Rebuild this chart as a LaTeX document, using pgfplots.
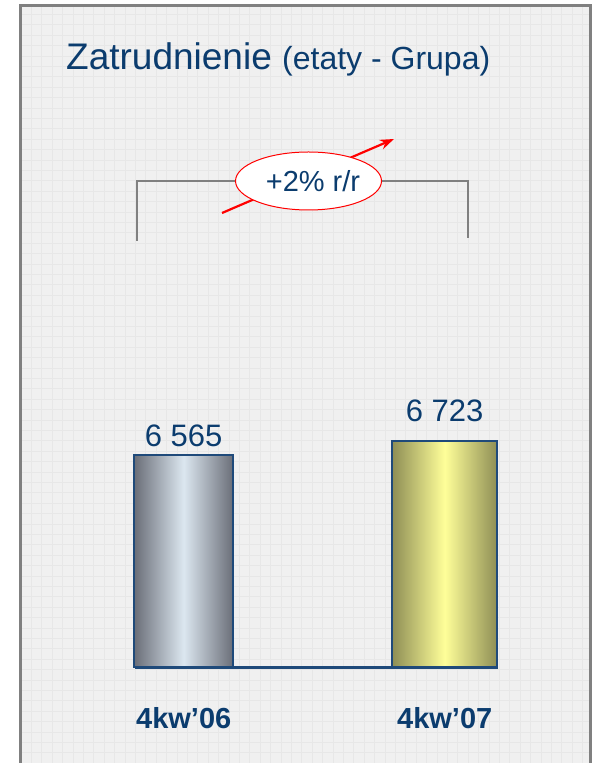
\documentclass[border=0pt]{standalone}
\usepackage{pgfplots}
\pgfplotsset{compat=1.18}
\usepackage{fontspec}
\setmainfont{Liberation Sans}
\usetikzlibrary{arrows.meta}

\definecolor{txtblue}{HTML}{0B3C6E}
\definecolor{edgeblue}{HTML}{1F4A7A}
\definecolor{bgc}{HTML}{F0F0F0}
\definecolor{gridc}{HTML}{E7E7E7}
\definecolor{steel}{HTML}{6A6E78}
\definecolor{ice}{HTML}{DCE7F0}
\definecolor{olive}{HTML}{8E8E55}
\definecolor{lemon}{HTML}{FFFF99}

\begin{document}
\begin{tikzpicture}
\useasboundingbox (0pt,0pt) rectangle (594pt,763pt);
% panel
\fill[bgc] (21pt,0pt) rectangle (590pt,758pt);
\draw[gridc, line width=0.4pt, step=10.4pt] (21pt,0pt) grid (590pt,758pt);
\draw[gray, line width=2.5pt] (20.5pt,-5pt) -- (20.5pt,757.5pt) -- (590.5pt,757.5pt) -- (590.5pt,-5pt);

% title
\node[anchor=base west, text=txtblue, inner sep=0pt] at (66pt,693pt)
  {\fontsize{37}{40}\selectfont Zatrudnienie\ \fontsize{32}{36}\selectfont(etaty - Grupa)};

% bracket, arrow, ellipse
\draw[gray, line width=2pt] (137pt,522pt) -- (137pt,582pt) -- (468pt,582pt) -- (468pt,525pt);
\draw[red, line width=2.2pt, -{Stealth[length=14pt,width=10pt]}] (222pt,550pt) -- (394pt,624pt);
\draw[red, fill=white, line width=1pt] (308.5pt,582pt) ellipse [x radius=73pt, y radius=29pt];
\node[text=txtblue, inner sep=0pt] at (313pt,582pt) {\fontsize{29}{32}\selectfont +2\% r/r};

\begin{axis}[
    at={(131.5pt,96pt)}, anchor=south west,
    scale only axis, width=365.4pt, height=300pt,
    xmin=-0.2, xmax=1.2, ymin=4170, ymax=7560,
    axis line style={draw=none},
    major tick length=0pt,
    xtick={0,1}, xticklabels={4kw’06, 4kw’07},
    ytick=\empty,
    xticklabel style={text=txtblue, font=\fontsize{29}{32}\selectfont\bfseries, yshift=-37pt},
    ybar, bar shift=0pt,
    clip=false,
    point meta=explicit symbolic,
    nodes near coords,
    every node near coord/.append style={text=txtblue, font=\fontsize{31}{34}\selectfont},
]
\addplot[draw=edgeblue, line width=1.5pt, bar width=99pt,
    left color=steel, right color=steel, middle color=ice,
    every node near coord/.append style={yshift=4pt}]
    coordinates {(0,6565) [6 565]};
\addplot[draw=edgeblue, line width=1.5pt, bar width=105pt,
    left color=olive, right color=olive, middle color=lemon,
    every node near coord/.append style={yshift=15pt}]
    coordinates {(1,6723) [6 723]};
\draw[edgeblue, line width=3pt] (axis cs:-0.186,4170) -- (axis cs:1.205,4170);
\end{axis}
\end{tikzpicture}
\end{document}
